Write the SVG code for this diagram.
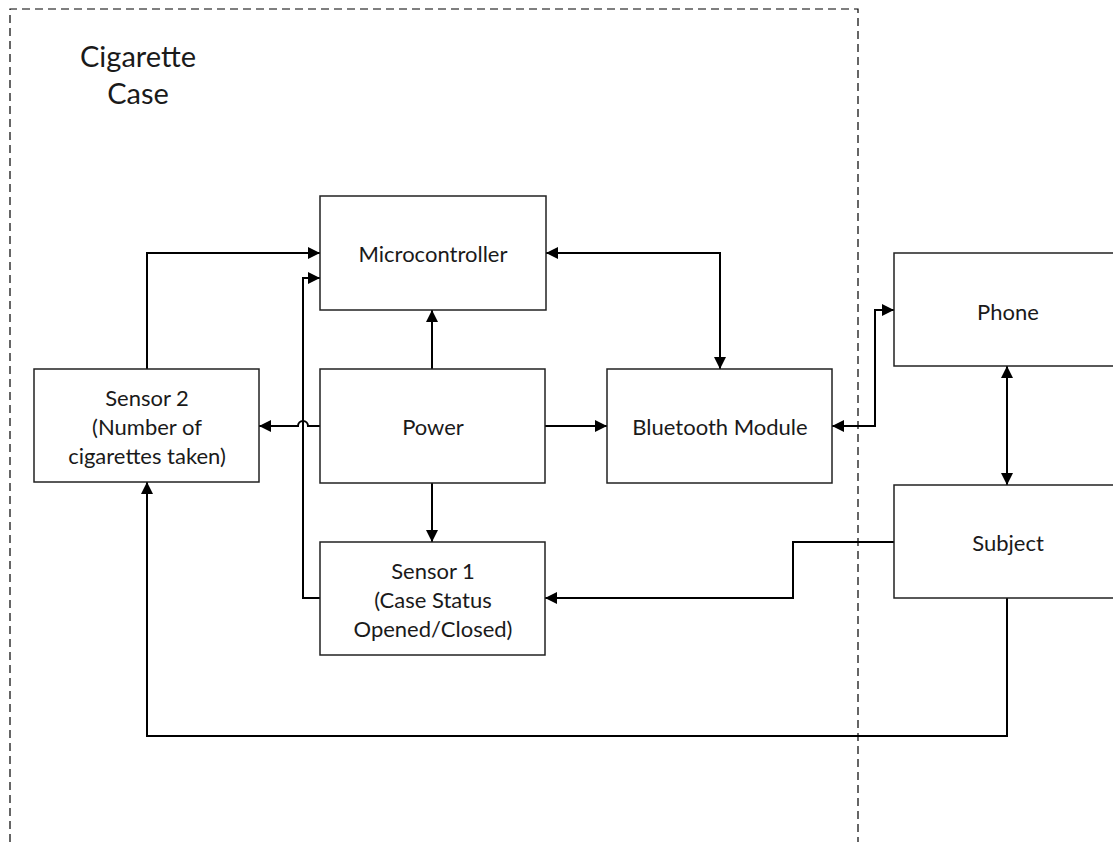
<svg xmlns="http://www.w3.org/2000/svg" width="1113" height="842" viewBox="0 0 1113 842">
<style>
.box{fill:#fff;stroke:#222;stroke-width:1.5}
.t{font-family:Lato,"Open Sans","Liberation Sans",sans-serif;font-size:22px;fill:#1a1a1a;text-anchor:middle;dominant-baseline:central}
.c{fill:none;stroke:#000;stroke-width:2}
</style>
<defs>
<marker id="a" viewBox="0 0 10 10" refX="10" refY="5" markerWidth="6" markerHeight="6" orient="auto-start-reverse" markerUnits="strokeWidth"><path d="M0,0L10,5L0,10z" fill="#000"/></marker>
</defs>
<rect width="1113" height="842" fill="#fff"/>
<path d="M10,842V9H858V842" fill="none" stroke="#000" stroke-width="1.2" stroke-dasharray="8,5"/>
<text class="t" x="138" y="55" style="font-size:29px">Cigarette</text>
<text class="t" x="138" y="92" style="font-size:29px">Case</text>
<g id="connectors">
<path class="c" d="M147,369V253H320" marker-end="url(#a)"/>
<path class="c" d="M320,598H303V278H320" marker-end="url(#a)"/>
<path class="c" d="M320,426H308A5,5 0 0 0 298,426H259" marker-end="url(#a)"/>
<path class="c" d="M432,369V310" marker-end="url(#a)"/>
<path class="c" d="M545,426H607" marker-end="url(#a)"/>
<path class="c" d="M432,483V542" marker-end="url(#a)"/>
<path class="c" d="M546,253H720V369" marker-start="url(#a)" marker-end="url(#a)"/>
<path class="c" d="M832,426H875V310H894" marker-start="url(#a)" marker-end="url(#a)"/>
<path class="c" d="M1007,366V485" marker-start="url(#a)" marker-end="url(#a)"/>
<path class="c" d="M894,542H793V598H545" marker-end="url(#a)"/>
<path class="c" d="M1007,598V736H147V482" marker-end="url(#a)"/>
</g>
<g id="microcontroller"><rect class="box" x="320" y="196" width="226" height="114"/><text class="t" x="433" y="253">Microcontroller</text></g>
<g id="sensor2"><rect class="box" x="34" y="369" width="225" height="113"/><text class="t" x="147" y="397">Sensor 2</text><text class="t" x="147" y="426">(Number of</text><text class="t" x="147" y="455">cigarettes taken)</text></g>
<g id="power"><rect class="box" x="320" y="369" width="225" height="114"/><text class="t" x="433" y="426">Power</text></g>
<g id="bluetooth"><rect class="box" x="607" y="369" width="225" height="114"/><text class="t" x="720" y="426">Bluetooth Module</text></g>
<g id="sensor1"><rect class="box" x="320" y="542" width="225" height="113"/><text class="t" x="433" y="570">Sensor 1</text><text class="t" x="433" y="599">(Case Status</text><text class="t" x="433" y="628">Opened/Closed)</text></g>
<g id="phone"><rect class="box" x="894" y="253" width="230" height="113"/><text class="t" x="1008" y="311">Phone</text></g>
<g id="subject"><rect class="box" x="894" y="485" width="230" height="113"/><text class="t" x="1008" y="542">Subject</text></g>
</svg>
